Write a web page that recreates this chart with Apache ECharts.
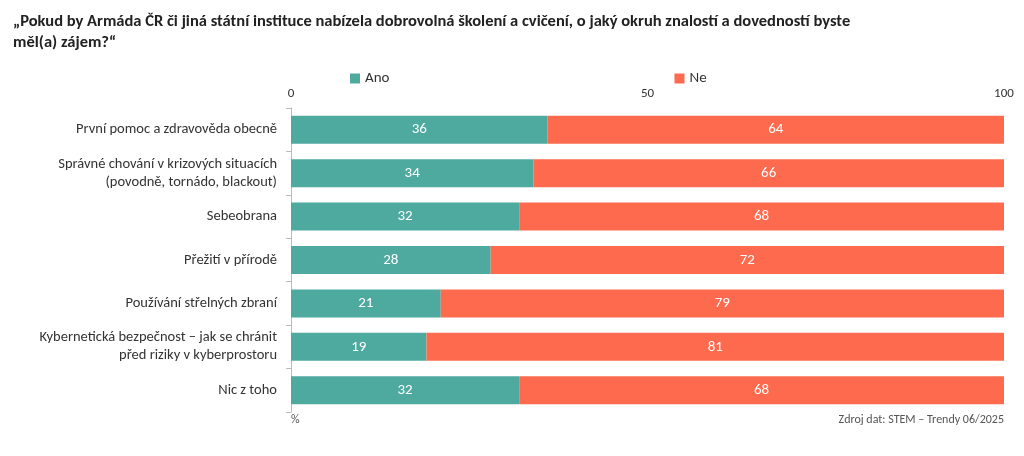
<!DOCTYPE html>
<html><head><meta charset="utf-8">
<script src="https://cdn.jsdelivr.net/npm/echarts@6/dist/echarts.min.js"></script>
<style>body{margin:0}#c{width:1024px;height:456px}</style></head>
<body><div id="c"></div>
<script>
var categories = ['První pomoc a zdravověda obecně', 'Správné chování v krizových situacích\n(povodně, tornádo, blackout)', 'Sebeobrana', 'Přežití v přírodě', 'Používání střelných zbraní', 'Kybernetická bezpečnost – jak se chránit\npřed riziky v kyberprostoru', 'Nic z toho'];
var ano = [36, 34, 32, 28, 21, 19, 32];
var ne = [64, 66, 68, 72, 79, 81, 68];

var chart = echarts.init(document.getElementById('c'));
var font = 'Calibri, Carlito, Lato, sans-serif';
chart.setOption({
    textStyle: {fontFamily: font},
    title: {
        text: '„Pokud by Armáda ČR či jiná státní instituce nabízela dobrovolná školení a cvičení, o jaký okruh znalostí a dovedností byste\nměl(a) zájem?“',
        left: 8, top: 6,
        textStyle: {fontSize: 16.5, fontWeight: 'bold', color: '#222', lineHeight: 21, fontFamily: font}
    },
    legend: {
        data: ['Ano', 'Ne'], top: 66, left: 345, itemGap: 285,
        itemWidth: 10, itemHeight: 10, icon: 'rect',
        textStyle: {fontSize: 15, color: '#333'}
    },
    grid: {left: 291, right: 20, top: 108, bottom: 44},
    xAxis: {
        type: 'value', position: 'top', min: 0, max: 100, interval: 50,
        axisLabel: {fontSize: 13, color: '#333'},
        splitLine: {show: false}, axisLine: {show: false}, axisTick: {show: false}
    },
    yAxis: {
        type: 'category', data: categories, inverse: true,
        axisLine: {show: true, lineStyle: {color: '#bbb'}},
        axisTick: {show: true, lineStyle: {color: '#bbb'}},
        axisLabel: {fontSize: 14.5, color: '#333', margin: 14, lineHeight: 18}
    },
    series: [
        {name: 'Ano', type: 'bar', stack: 'a', data: ano, barWidth: 28,
         itemStyle: {color: '#4ea99f'},
         label: {show: true, color: '#fff', fontSize: 15}},
        {name: 'Ne', type: 'bar', stack: 'a', data: ne, barWidth: 28,
         itemStyle: {color: '#fe6a4e'},
         label: {show: true, color: '#fff', fontSize: 15}}
    ],
    graphic: [
        {type: 'text', left: 291, top: 414, style: {text: '%', fontSize: 12, fill: '#555', fontFamily: font}},
        {type: 'text', right: 20, top: 414, style: {text: 'Zdroj dat: STEM – Trendy 06/2025', fontSize: 12, fill: '#555', fontFamily: font}}
    ]
});
</script></body></html>
